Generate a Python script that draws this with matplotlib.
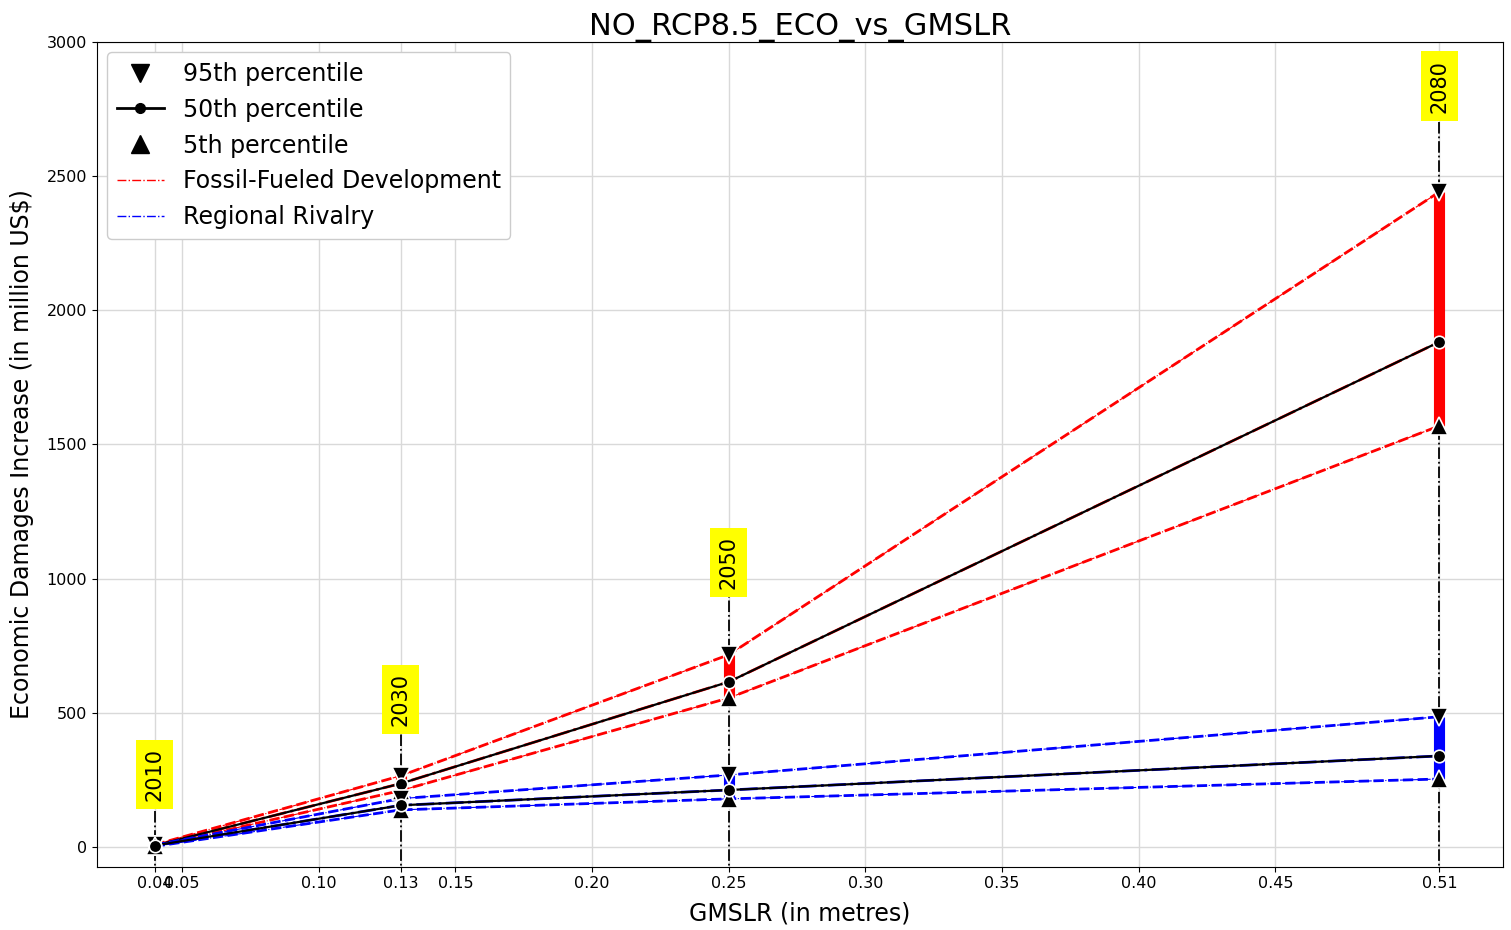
import matplotlib
matplotlib.use('Agg')
import matplotlib.pyplot as plt
from matplotlib.lines import Line2D

# ---- Data ----
years = ['2010', '2030', '2050', '2080']
gmslr = [0.04, 0.13, 0.25, 0.51]

# Fossil-Fueled Development (red)
ffd_p95 = [8, 265, 716, 2441]
ffd_p50 = [5, 236, 615, 1882]
ffd_p05 = [2, 210, 555, 1569]

# Regional Rivalry (blue)
rr_p95 = [7, 180, 268, 485]
rr_p50 = [5, 155, 212, 339]
rr_p05 = [2, 138, 179, 253]

# height of the year labels (bottom of the text)
label_y = [171, 451, 961, 2736]

xticks = [0.04, 0.05, 0.10, 0.13, 0.15, 0.20, 0.25, 0.30, 0.35, 0.40, 0.45, 0.51]

fig = plt.figure(figsize=(15.11, 9.30), dpi=100)
ax = fig.add_axes([0.064, 0.068, 0.931, 0.887])
ax.grid(True, color='#d9d9d9', linewidth=1.0, zorder=0)
ax.set_axisbelow(True)

ymin, ymax = -74, 3000

# vertical year markers
for x, yr, ly in zip(gmslr, years, label_y):
    ax.plot([x, x], [ymin - 50, ly], color='black', linestyle='-.', linewidth=1.3, zorder=2)
    ax.text(x, ly, yr, rotation=90, ha='center', va='bottom', fontsize=15,
            bbox=dict(facecolor='yellow', edgecolor='none', pad=6), zorder=6)

def scenario(p95, p50, p05, color):
    # range bars
    ax.vlines(gmslr, p05, p95, color=color, linewidth=8, zorder=3)
    for p in (p95, p05):
        ax.plot(gmslr, p, color=color, linestyle='--', linewidth=2, zorder=4)
        ax.plot(gmslr, p, color=color, linestyle='-.', linewidth=0.8, zorder=4)
    ax.plot(gmslr, p50, color=color, linestyle='-.', linewidth=2, zorder=4)
    ax.plot(gmslr, p50, color='black', linestyle='-', linewidth=1.6, zorder=4)
    ax.plot(gmslr, p95, linestyle='none', marker='v', markersize=13, color='black',
            markeredgecolor='white', markeredgewidth=1.2, zorder=5)
    ax.plot(gmslr, p05, linestyle='none', marker='^', markersize=13, color='black',
            markeredgecolor='white', markeredgewidth=1.2, zorder=5)
    ax.plot(gmslr, p50, linestyle='none', marker='o', markersize=9, color='black',
            markeredgecolor='white', markeredgewidth=1.2, zorder=5)

scenario(ffd_p95, ffd_p50, ffd_p05, 'red')
scenario(rr_p95, rr_p50, rr_p05, 'blue')

ax.set_xlim(0.0188, 0.5334)
ax.set_ylim(ymin, ymax)
ax.set_xticks(xticks)
ax.set_xticklabels([f'{t:.2f}' for t in xticks])
ax.tick_params(labelsize=11.5)

ax.set_title('NO_RCP8.5_ECO_vs_GMSLR', fontsize=22, pad=-1)
ax.set_xlabel('GMSLR (in metres)', fontsize=17, labelpad=7)
ax.set_ylabel('Economic Damages Increase (in million US$)', fontsize=17, labelpad=9)

handles = [
    Line2D([], [], linestyle='none', marker='v', markersize=13, color='black'),
    Line2D([], [], linestyle='-', marker='o', markersize=7, color='black', linewidth=2),
    Line2D([], [], linestyle='none', marker='^', markersize=13, color='black'),
    Line2D([], [], linestyle='-.', color='red', linewidth=1),
    Line2D([], [], linestyle='-.', color='blue', linewidth=1),
]
labels = ['95th percentile', '50th percentile', '5th percentile',
          'Fossil-Fueled Development', 'Regional Rivalry']
ax.legend(handles, labels, loc='upper left', fontsize=17, framealpha=1,
          borderaxespad=0.45)

plt.savefig('out.png', dpi=100)
